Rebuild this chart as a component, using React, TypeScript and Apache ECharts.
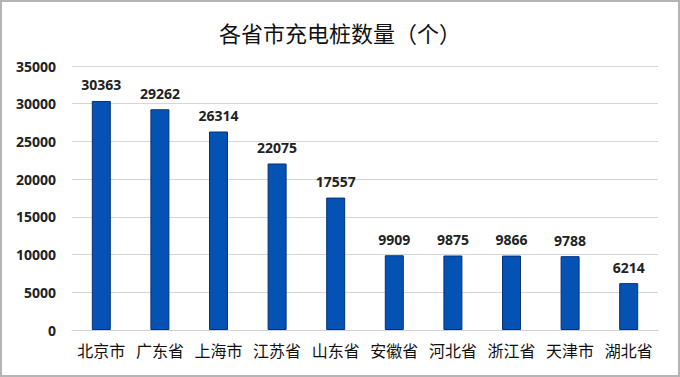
import React, { useEffect, useRef } from "react";
import * as echarts from "echarts";

const categories = ["北京市", "广东省", "上海市", "江苏省", "山东省", "安徽省", "河北省", "浙江省", "天津市", "湖北省"];
const values = [30363, 29262, 26314, 22075, 17557, 9909, 9875, 9866, 9788, 6214];
const titleText = "各省市充电桩数量（个）";

export default function App() {
  const ref = useRef<HTMLDivElement>(null);
  useEffect(() => {
    document.body.style.margin = "0";
    const chart = echarts.init(ref.current!, null, { renderer: "svg" });
    chart.setOption({
      animation: false,
      backgroundColor: "#ffffff",
      title: {
        text: titleText,
        left: "center",
        top: 14,
        textStyle: { fontSize: 22, fontWeight: "normal", color: "#111", fontFamily: "Noto Sans CJK SC" },
      },
      grid: { left: 70, right: 20, top: 64, bottom: 45 },
      xAxis: {
        type: "category",
        data: categories,
        axisTick: { show: false },
        axisLine: { lineStyle: { color: "#d0d0d0", width: 1 } },
        axisLabel: { fontSize: 16, color: "#111", margin: 12, fontFamily: "Noto Sans CJK SC", interval: 0 },
      },
      yAxis: {
        type: "value",
        min: 0,
        max: 35000,
        interval: 5000,
        axisLine: { show: false },
        axisTick: { show: false },
        splitLine: { lineStyle: { color: "#d6d6d6", width: 1 } },
        axisLabel: {
          fontSize: 14,
          fontWeight: "bold",
          color: "#222",
          margin: 16,
          fontFamily: "Open Sans",
          formatter: (v: number) => String(v),
        },
      },
      series: [
        {
          type: "bar",
          data: values,
          barWidth: 19,
          itemStyle: { color: "#0552b5", borderColor: "#05317a", borderWidth: 1 },
          label: {
            show: true,
            position: "top",
            distance: 9,
            fontSize: 14,
            fontWeight: "bold",
            color: "#222",
            fontFamily: "Open Sans",
          },
        },
      ],
    });
    return () => chart.dispose();
  }, []);
  return (
    <div style={{ width: 680, height: 377, boxSizing: "border-box", border: "2px solid #b5b5b5", overflow: "hidden" }}>
      <div ref={ref} style={{ width: 676, height: 373 }} />
    </div>
  );
}
